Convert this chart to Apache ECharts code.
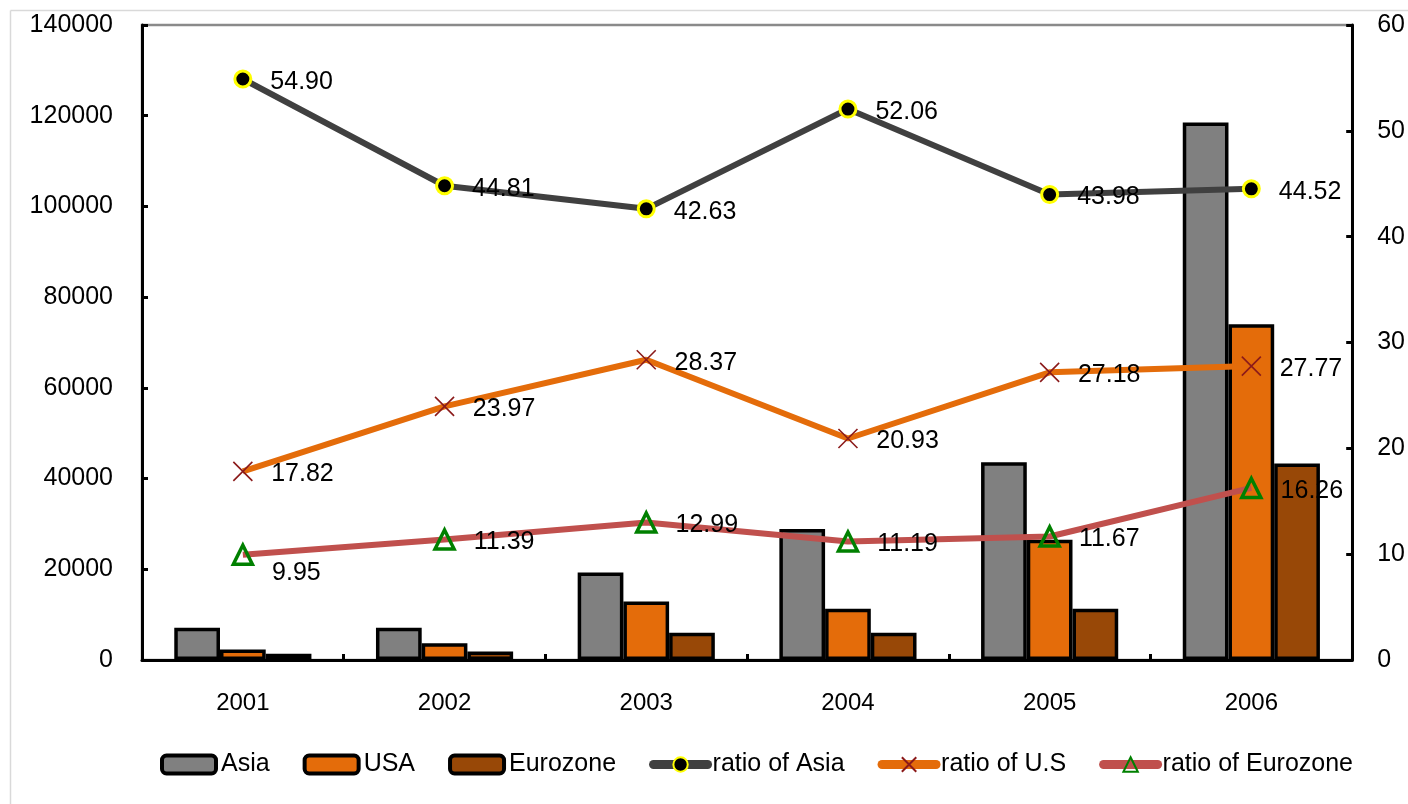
<!DOCTYPE html>
<html>
<head>
<meta charset="utf-8">
<script src="https://cdn.jsdelivr.net/npm/echarts@6/dist/echarts.min.js"></script>
<style>
  html, body { margin: 0; padding: 0; background: #fff; }
  #chart { width: 1408px; height: 804px; }
</style>
</head>
<body>
<div id="chart"></div>
<script>
// Years on the category axis
const years = ['2001', '2002', '2003', '2004', '2005', '2006'];

// Amounts (left axis)
const asia = [7100, 7100, 19300, 28900, 43600, 118500];
const usa = [2300, 3700, 12900, 11300, 26500, 74000];
const eurozone = [1400, 1900, 6000, 6000, 11300, 43300];

// Shares in percent (right axis)
const ratioAsia = [54.90, 44.81, 42.63, 52.06, 43.98, 44.52];
const ratioUS = [17.82, 23.97, 28.37, 20.93, 27.18, 27.77];
const ratioEuro = [9.95, 11.39, 12.99, 11.19, 11.67, 16.26];

// Axis scales
const leftMax = 140000, leftStep = 20000;
const rightMax = 60, rightStep = 10;

const FONT = 'Liberation Sans, Arial, sans-serif';

const chart = echarts.init(document.getElementById('chart'), null, { renderer: 'canvas' });

const barStyle = (color) => ({
  color: color,
  borderColor: '#000',
  borderWidth: 3.5
});

const valueLabel = {
  show: true,
  position: 'right',
  distance: 18,
  offset: [0, 3],
  color: '#000',
  fontFamily: FONT,
  fontSize: 25,
  formatter: (p) => p.value.toFixed(2)
};

function lineSeries(name, values, lineColor, symbol, symbolSize, itemStyle, labelTweaks) {
  return {
    name: name,
    type: 'line',
    yAxisIndex: 1,
    data: values.map((v, i) => {
      const item = { value: v };
      if (labelTweaks && labelTweaks[i]) item.label = labelTweaks[i];
      return item;
    }),
    symbol: symbol,
    symbolSize: symbolSize,
    showAllSymbol: true,
    lineStyle: { color: lineColor, width: 6 },
    itemStyle: itemStyle,
    label: valueLabel,
    z: 5
  };
}

const axisLabelStyle = { color: '#000', fontFamily: FONT, fontSize: 25 };
const barLegendIcon = { borderColor: '#000', borderWidth: 4 };

const option = {
  backgroundColor: '#fff',
  animation: false,
  textStyle: { fontFamily: FONT },
  grid: {
    left: 142, right: 53, top: 25, bottom: 144,
    show: true,
    borderColor: '#8a8a8a',
    borderWidth: 2.5,
    backgroundColor: 'transparent'
  },
  legend: {
    left: 155,
    top: 747,
    itemWidth: 54,
    itemHeight: 18,
    itemGap: 33,
    lineStyle: { width: 9, cap: 'round' },
    textStyle: { color: '#000', fontFamily: FONT, fontSize: 25 },
    data: [
      { name: 'Asia', itemStyle: barLegendIcon },
      { name: 'USA', itemStyle: barLegendIcon },
      { name: 'Eurozone', itemStyle: barLegendIcon },
      'ratio of Asia', 'ratio of U.S', 'ratio of Eurozone'
    ]
  },
  xAxis: {
    type: 'category',
    data: years,
    boundaryGap: true,
    axisLine: { lineStyle: { color: '#000', width: 3 } },
    axisTick: { show: true, inside: true, length: 6, lineStyle: { color: '#000', width: 3 } },
    axisLabel: Object.assign({ margin: 31 }, axisLabelStyle, { fontSize: 24 })
  },
  yAxis: [
    {
      type: 'value',
      min: 0, max: leftMax, interval: leftStep,
      axisLine: { show: true, lineStyle: { color: '#000', width: 3 } },
      axisTick: { show: true, inside: true, length: 6, lineStyle: { color: '#000', width: 3 } },
      axisLabel: Object.assign({ margin: 29, formatter: (v) => String(v) }, axisLabelStyle),
      splitLine: { show: false }
    },
    {
      type: 'value',
      min: 0, max: rightMax, interval: rightStep,
      position: 'right',
      axisLine: { show: true, lineStyle: { color: '#000', width: 3 } },
      axisTick: { show: true, inside: true, length: 6, lineStyle: { color: '#000', width: 3 } },
      axisLabel: Object.assign({ margin: 25, formatter: (v) => String(v) }, axisLabelStyle),
      splitLine: { show: false }
    }
  ],
  series: [
    {
      name: 'Asia', type: 'bar', data: asia,
      barGap: '0%', barCategoryGap: '32%',
      itemStyle: barStyle('#808080')
    },
    {
      name: 'USA', type: 'bar', data: usa,
      itemStyle: barStyle('#E46C0A')
    },
    {
      name: 'Eurozone', type: 'bar', data: eurozone,
      itemStyle: barStyle('#984807')
    },
    lineSeries('ratio of Asia', ratioAsia, '#404040', 'circle', 16,
      { color: '#000', borderColor: '#FFFF00', borderWidth: 3 }),
    lineSeries('ratio of U.S', ratioUS, '#E46C0A', 'path://M0,0L20,20M20,0L0,20', 19,
      { color: '#8B1A1A', borderColor: '#8B1A1A', borderWidth: 1.6 }),
    lineSeries('ratio of Eurozone', ratioEuro, '#C0504D', 'triangle', 19,
      { color: 'rgba(0,0,0,0)', borderColor: '#008000', borderWidth: 3.5 },
      { 0: { offset: [0, 18] } })
  ],
  graphic: [
    // light outer frame
    { type: 'line', shape: { x1: 10.5, y1: 10.5, x2: 1408, y2: 10.5 }, style: { stroke: '#d9d9d9', lineWidth: 1.5 }, silent: true },
    { type: 'line', shape: { x1: 10.5, y1: 10.5, x2: 10.5, y2: 804 }, style: { stroke: '#d9d9d9', lineWidth: 1.5 }, silent: true }
  ]
};

chart.setOption(option);
</script>
</body>
</html>
